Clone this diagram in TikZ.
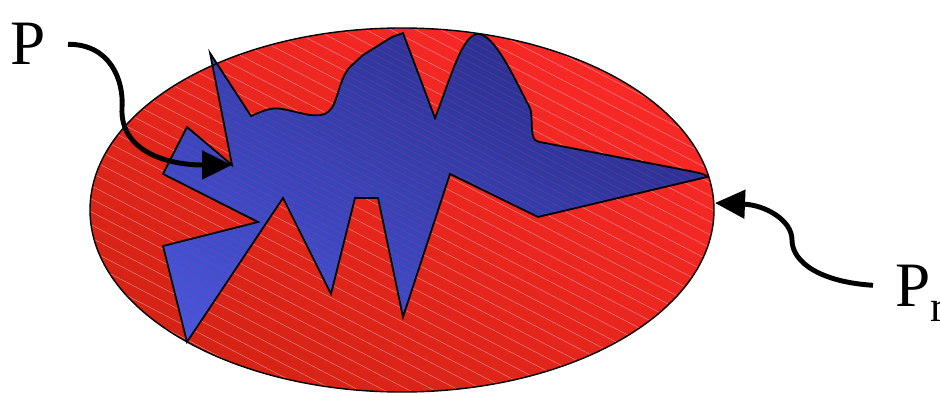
\documentclass[tikz,border=0pt]{standalone}
\usepackage{fontspec}
\setmainfont{Liberation Serif}
\usetikzlibrary{arrows.meta,shadings}
\definecolor{reddark}{RGB}{204,34,17}
\definecolor{redmid}{RGB}{232,38,30}
\definecolor{redlight}{RGB}{255,42,42}
\definecolor{bluelight}{RGB}{72,88,222}
\definecolor{bluemid}{RGB}{54,64,178}
\definecolor{bluedark}{RGB}{34,38,122}
\definecolor{hatchpink}{RGB}{170,60,150}
\newcommand\blobpath{(210,53) -- (251,116) .. controls (265,110) and (272,107) .. (282,109)
  .. controls (300,112) and (318,120) .. (328,112) .. controls (338,105) and (338,80) .. (350,67)
  -- (363,55) -- (392,37) -- (403,33) -- (435,118)
  .. controls (450,80) and (462,34) .. (478,34) .. controls (495,34) and (515,80) .. (530,108)
  .. controls (533,115) and (530,135) .. (535,140) .. controls (537,142) and (540,142) .. (545,143)
  -- (695,172) .. controls (704,174) and (708,176) .. (707,177)
  -- (538,217) -- (450,174) -- (403,317) -- (378,198) -- (355,198) -- (331,294)
  -- (283,198) -- (187,342) -- (163,246) -- (258,222) -- (163,174) -- (187,127) -- (232,165) -- cycle}
\begin{document}
\begin{tikzpicture}[x=0.02cm,y=-0.02cm,
    pointer/.style={-{Triangle[length=0.6cm,width=0.56cm]},line width=2.8pt},
    hatch/.style={line width=0.3pt,opacity=0.4},
    lbl/.style={font=\fontsize{36}{40}\selectfont,inner sep=0pt,outer xsep=0.45cm}]
    \useasboundingbox (0,0) rectangle (940,395);
    \shade[upper left=redmid,upper right=redlight,lower left=reddark,lower right=redmid]
        (402,210) ellipse [x radius=312,y radius=182];
    \begin{scope}
        \clip (402,210) ellipse [x radius=312,y radius=182];
        \foreach \c in {-340,-327,...,420}
            \draw[hatch,white] (80,\c) -- (720,\c+333);
    \end{scope}
    \shade[upper left=bluemid,upper right=bluedark,lower left=bluelight,lower right=bluemid] \blobpath;
    \begin{scope}
        \clip \blobpath;
        \foreach \c in {-260,-253,...,350}
            \draw[hatch,hatchpink] (160,\c) -- (710,\c+286);
    \end{scope}
    \draw[line width=1pt] \blobpath;
    \draw[line width=0.8pt] (402,210) ellipse [x radius=312,y radius=182];
    \node[lbl,anchor=base east] (p) at (68,65) {P};
    \node[lbl,anchor=base west] (pr) at (873,306) {P\smash{\raisebox{-9pt}{\fontsize{25}{25}\selectfont r}}};
    \coordinate (ptip) at (232,165);
    \coordinate (prtip) at (715,203);
    \draw[pointer] (p.east) .. controls (110,44) and (124,80) .. (122,108)
        .. controls (120,150) and (165,165) .. (ptip);
    \draw[pointer] (pr.west) .. controls (820,282) and (792,262) .. (792,240)
        .. controls (792,220) and (765,205) .. (prtip);
\end{tikzpicture}
\end{document}
